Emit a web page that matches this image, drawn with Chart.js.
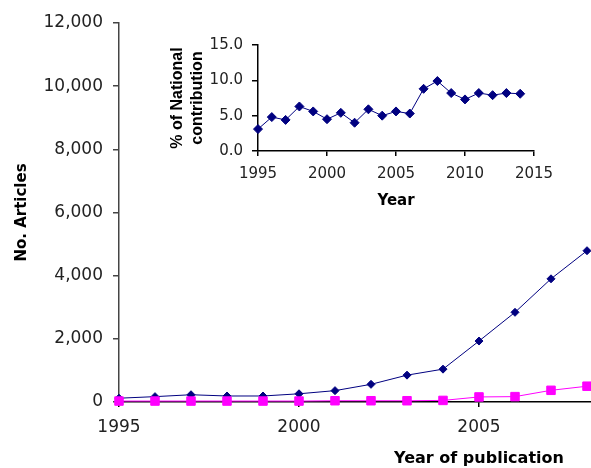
<!DOCTYPE html>
<html>
<head>
<meta charset="utf-8">
<script src="https://cdn.jsdelivr.net/npm/chart.js@4/dist/chart.umd.min.js"></script>
<style>
  html, body { margin: 0; padding: 0; background: #fff; overflow: hidden; }
  #wrap { position: relative; width: 591px; height: 468px; overflow: hidden; }
  #mainChart { position: absolute; left: 0; top: 0; }
  #insetChart { position: absolute; left: 150px; top: 20px; }
</style>
</head>
<body>
<div id="wrap">
  <canvas id="mainChart" width="860" height="468"></canvas>
  <canvas id="insetChart" width="420" height="200"></canvas>
</div>
<script>
// main chart: articles per year of publication
const pubYears = [1995, 1996, 1997, 1998, 1999, 2000, 2001, 2002, 2003, 2004, 2005, 2006, 2007, 2008];
const totalArticles = [120, 170, 230, 190, 190, 260, 360, 560, 850, 1040, 1930, 2840, 3900, 4790];
const nationalArticles = [30, 30, 30, 30, 30, 30, 40, 40, 40, 50, 160, 170, 370, 500];
const mainXTicks = [1995, 2000, 2005];

// inset: % of national contribution
const insetYears = [1995, 1996, 1997, 1998, 1999, 2000, 2001, 2002, 2003, 2004,
                    2005, 2006, 2007, 2008, 2009, 2010, 2011, 2012, 2013, 2014];
const nationalShare = [3.1, 4.8, 4.4, 6.3, 5.6, 4.5, 5.4, 4.0, 5.9, 5.0,
                       5.6, 5.3, 8.8, 9.9, 8.2, 7.3, 8.2, 7.9, 8.2, 8.1];
const insetXTicks = [1995, 2000, 2005, 2010, 2015];

const toPoints = (xs, ys) => xs.map((x, i) => ({ x: x, y: ys[i] }));
const numFont = 'DejaVu Sans, Verdana, sans-serif';

new Chart(document.getElementById('mainChart'), {
  type: 'line',
  data: {
    datasets: [
      {
        label: 'All articles',
        data: toPoints(pubYears, totalArticles),
        borderColor: '#000080',
        backgroundColor: '#000080',
        borderWidth: 1,
        pointStyle: 'rectRot',
        pointRadius: 4,
        pointBorderWidth: 1,
        clip: false,
        order: 2
      },
      {
        label: 'National articles',
        data: toPoints(pubYears, nationalArticles),
        borderColor: '#ff00ff',
        backgroundColor: '#ff00ff',
        borderWidth: 1,
        pointStyle: 'rect',
        pointRadius: 6,
        pointBorderWidth: 1,
        clip: false,
        order: 1
      }
    ]
  },
  options: {
    responsive: false,
    animation: false,
    layout: { padding: { top: 23, right: 21, left: 0, bottom: 0 } },
    plugins: { legend: { display: false }, tooltip: { enabled: false } },
    scales: {
      x: {
        type: 'linear',
        min: 1995,
        max: 2015,
        afterBuildTicks: s => { s.ticks = mainXTicks.map(v => ({ value: v })); },
        afterFit: s => { s.height = 66; },
        grid: { drawOnChartArea: false, drawTicks: true, tickLength: 5, color: '#000', lineWidth: 1.5 },
        border: { color: '#000', width: 1.5 },
        ticks: {
          color: '#222', padding: 10, maxRotation: 0, autoSkip: false,
          font: { family: numFont, size: 17 },
          callback: v => String(v)
        },
        title: {
          display: true, text: 'Year of publication', color: '#000',
          font: { family: numFont, size: 16, weight: 'bold' },
          padding: { top: 0, bottom: 0 }
        }
      },
      y: {
        min: 0,
        max: 12000,
        afterFit: s => { s.width = 119; },
        grid: { drawOnChartArea: false, drawTicks: true, tickLength: 6, color: '#444', lineWidth: 1.5 },
        border: { color: '#444', width: 1.5 },
        ticks: {
          stepSize: 2000, color: '#222', padding: 10,
          font: { family: numFont, size: 17 },
          callback: v => v.toLocaleString('en-US')
        },
        title: {
          display: true, text: 'No. Articles', color: '#000',
          font: { family: numFont, size: 15, weight: 'bold' },
          padding: { top: 13, bottom: 0 }
        }
      }
    }
  }
});

new Chart(document.getElementById('insetChart'), {
  type: 'line',
  data: {
    datasets: [{
      label: '% of National contribution',
      data: toPoints(insetYears, nationalShare),
      borderColor: '#000080',
      backgroundColor: '#000080',
      borderWidth: 1,
      pointStyle: 'rectRot',
      pointRadius: 4.5,
      pointBorderWidth: 1,
      clip: false
    }]
  },
  options: {
    responsive: false,
    animation: false,
    layout: { padding: { top: 25, right: 36, left: 0, bottom: 0 } },
    plugins: { legend: { display: false }, tooltip: { enabled: false } },
    scales: {
      x: {
        type: 'linear',
        min: 1995,
        max: 2015,
        afterBuildTicks: s => { s.ticks = insetXTicks.map(v => ({ value: v })); },
        afterFit: s => { s.height = 69; },
        grid: { drawOnChartArea: false, drawTicks: true, tickLength: 5, color: '#000', lineWidth: 1.5 },
        border: { color: '#000', width: 1.5 },
        ticks: {
          color: '#222', padding: 9, maxRotation: 0, autoSkip: false,
          font: { family: numFont, size: 15 },
          callback: v => String(v)
        },
        title: {
          display: true, text: 'Year', color: '#000',
          font: { family: numFont, size: 15, weight: 'bold' },
          padding: { top: 0, bottom: 10 }
        }
      },
      y: {
        min: 0,
        max: 15,
        afterFit: s => { s.width = 108; },
        grid: { drawOnChartArea: false, drawTicks: true, tickLength: 6, color: '#000', lineWidth: 1.5 },
        border: { color: '#000', width: 1.5 },
        ticks: {
          stepSize: 5, color: '#222', padding: 9,
          font: { family: numFont, size: 15 },
          callback: v => v.toFixed(1)
        },
        title: {
          display: true, text: ['% of National', 'contribution'], color: '#000',
          font: { family: "'Liberation Sans Narrow', 'Arial Narrow', 'Liberation Sans', sans-serif", size: 16, weight: 'bold', lineHeight: 1.28 },
          padding: { top: 17, bottom: 0 }
        }
      }
    }
  }
});
</script>
</body>
</html>
